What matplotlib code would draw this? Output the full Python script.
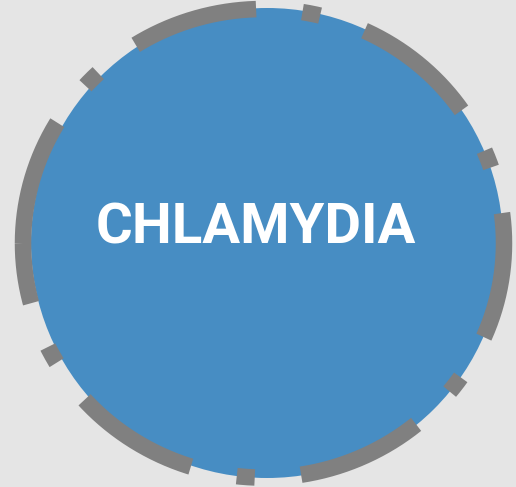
import numpy as np
import matplotlib
matplotlib.use('Agg')
import matplotlib.pyplot as plt
from matplotlib.patches import Ellipse

# data
label = "CHLAMYDIA"
circle_center = (267, 243)
circle_radius = (236, 235)
ring_center = (263.5, 243.3)
ring_radius = (240.5, 234.3)

W, H = 516, 487
px = 72 / 100  # px -> pt at dpi 100

plt.rcParams['lines.scale_dashes'] = False

fig = plt.figure(figsize=(W / 100, H / 100), dpi=100)
fig.patch.set_facecolor('#e5e5e5')
ax = fig.add_axes([0, 0, 1, 1])
ax.set_xlim(0, W)
ax.set_ylim(H, 0)
ax.axis('off')

# blue disc
ax.add_patch(Ellipse(circle_center, 2 * circle_radius[0], 2 * circle_radius[1],
                     facecolor='#478dc3', edgecolor='none', zorder=1))

# dashed ring, starts at 9 o'clock and runs clockwise
t = np.linspace(np.pi, -np.pi, 2000)
rx = ring_center[0] + ring_radius[0] * np.cos(t)
ry = ring_center[1] - ring_radius[1] * np.sin(t)
ax.plot(rx, ry, color='#808080', linewidth=16.5 * px, solid_capstyle='butt',
        dash_capstyle='butt',
        dashes=(127 * px, 46.5 * px, 18 * px, 47 * px), zorder=2)

ax.text(255.5, 244, label, color='white', fontsize=40.5, fontweight='bold',
        family='Roboto', ha='center', va='baseline', zorder=3)

fig.savefig('out.png', dpi=100, facecolor=fig.get_facecolor())
